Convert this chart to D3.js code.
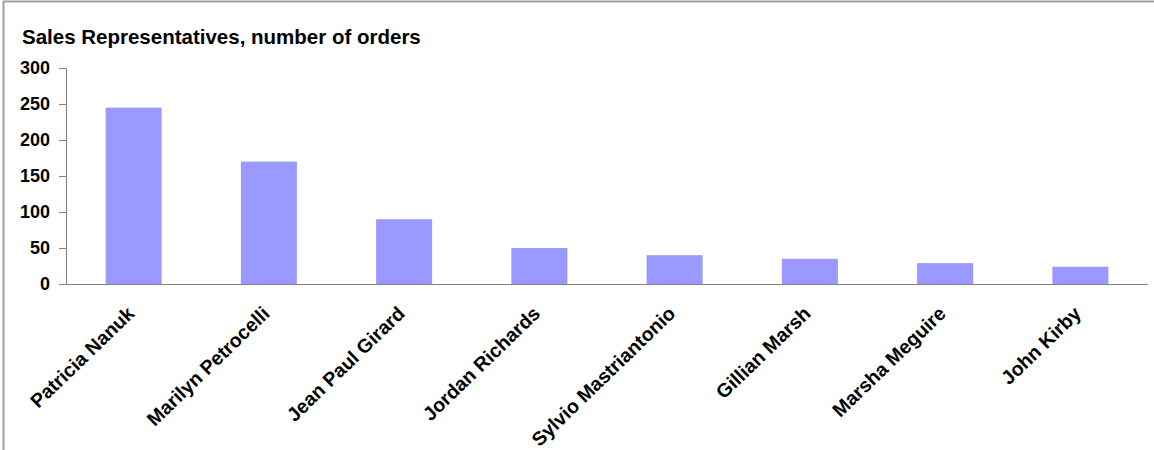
<!DOCTYPE html>
<html><head><meta charset="utf-8">
<script src="https://cdn.jsdelivr.net/npm/d3@7"></script>
<style>body{margin:0;background:#fff}svg{display:block}text{font-family:"Liberation Sans",Arial,sans-serif;font-weight:bold;fill:#000}</style>
</head><body><svg id="c" width="1154" height="450"></svg>
<script>
const categories = ["Patricia Nanuk","Marilyn Petrocelli","Jean Paul Girard","Jordan Richards","Sylvio Mastriantonio","Gillian Marsh","Marsha Meguire","John Kirby"];
const orders = [245,170,90,50,40,35,29,24];
const yTicks = [0,50,100,150,200,250,300];
const title = "Sales Representatives, number of orders";

const svg = d3.select("#c");
const L = 66, R = 1148, T = 68, B = 284;
svg.append("line").attr("x1",3).attr("x2",1154).attr("y1",1.5).attr("y2",1.5).attr("stroke","#a0a0a0").attr("stroke-width",2);
svg.append("line").attr("x1",3.5).attr("x2",3.5).attr("y1",1).attr("y2",450).attr("stroke","#a0a0a0").attr("stroke-width",2);

const x = d3.scaleBand().domain(categories).range([L,R]).paddingInner(0.586).paddingOuter(0.293);
const y = d3.scaleLinear().domain([0,300]).range([B,T]);

svg.append("text").attr("x",22).attr("y",44).attr("font-size",20.5).text(title);

svg.selectAll("rect.bar").data(orders).join("rect").attr("class","bar")
  .attr("x",(d,i)=>x(categories[i])).attr("width",x.bandwidth())
  .attr("y",d=>y(d)).attr("height",d=>B-y(d)).attr("fill","#9999ff");

const ya = svg.append("g").attr("transform",`translate(${L},0)`)
  .call(d3.axisLeft(y).tickValues(yTicks).tickSize(7).tickPadding(9).tickSizeOuter(0));
ya.select(".domain").attr("stroke","#808080");
ya.selectAll(".tick line").attr("stroke","#808080");
ya.selectAll(".tick text").attr("font-size",18).attr("font-family","Liberation Sans, Arial, sans-serif").attr("font-weight","bold").attr("fill","#000");

const xa = svg.append("g").attr("transform",`translate(0,${B})`)
  .call(d3.axisBottom(x).tickSize(0).tickPadding(0).tickSizeOuter(0));
xa.select(".domain").attr("stroke","#808080").attr("d",`M${L},0.5H${R}`);
xa.selectAll(".tick text").attr("font-size",19.5).attr("font-family","Liberation Sans, Arial, sans-serif").attr("font-weight","bold").attr("fill","#000")
  .attr("text-anchor","end").attr("dy",null).attr("y",null)
  .attr("transform","translate(2,31) rotate(-44)");
</script></body></html>
